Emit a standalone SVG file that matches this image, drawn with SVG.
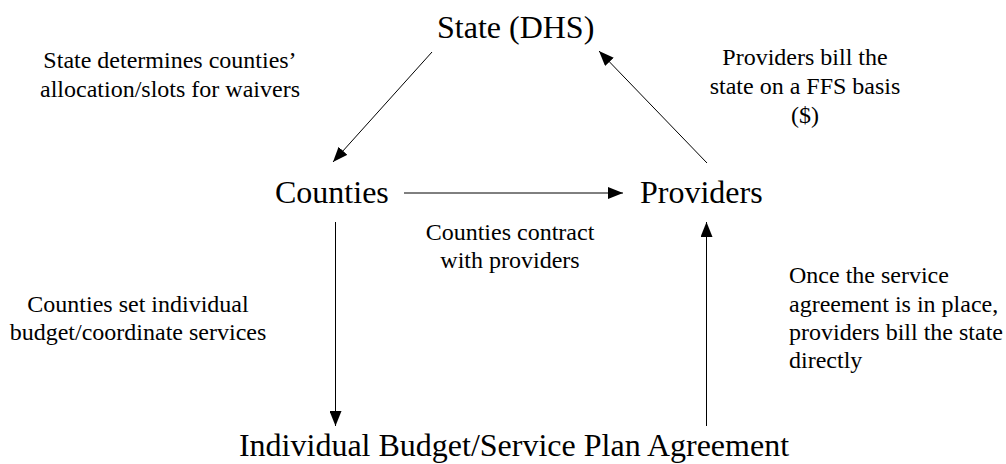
<svg xmlns="http://www.w3.org/2000/svg" width="1006" height="464" viewBox="0 0 1006 464">
<style>
.node{font-family:"Liberation Serif","Times New Roman",serif;font-size:32px;fill:#000}
.lbl{font-family:"Liberation Serif","Times New Roman",serif;font-size:24px;fill:#000}
.edge{stroke:#000;stroke-width:1;fill:none;marker-end:url(#ah)}
</style>
<defs>
<marker id="ah" viewBox="0 0 15 12" refX="15" refY="6" markerWidth="15" markerHeight="12" markerUnits="userSpaceOnUse" orient="auto">
<path d="M0,0 L15,6 L0,12 Z" fill="#000"/>
</marker>
</defs>
<rect width="1006" height="464" fill="#fff"/>
<g id="state"><text class="node" x="437" y="38">State (DHS)</text></g>
<g id="counties"><text class="node" x="275" y="203">Counties</text></g>
<g id="providers"><text class="node" x="640" y="203">Providers</text></g>
<g id="plan"><text class="node" x="514" y="456" text-anchor="middle">Individual Budget/Service Plan Agreement</text></g>
<g id="connectors">
<line class="edge" x1="432" y1="52" x2="333" y2="162"/>
<line class="edge" x1="707" y1="163" x2="599" y2="51"/>
<line class="edge" x1="404" y1="193" x2="623" y2="193"/>
<line class="edge" x1="335.5" y1="222" x2="335.5" y2="426"/>
<line class="edge" x1="706.5" y1="426" x2="706.5" y2="222"/>
</g>
<g id="labels">
<text class="lbl" x="170" y="68" text-anchor="middle">State determines counties’</text>
<text class="lbl" x="170" y="97" text-anchor="middle">allocation/slots for waivers</text>
<text class="lbl" x="805" y="65" text-anchor="middle">Providers bill the</text>
<text class="lbl" x="805" y="94" text-anchor="middle">state on a FFS basis</text>
<text class="lbl" x="805" y="123" text-anchor="middle">($)</text>
<text class="lbl" x="510" y="240" text-anchor="middle">Counties contract</text>
<text class="lbl" x="510" y="268" text-anchor="middle">with providers</text>
<text class="lbl" x="138" y="312" text-anchor="middle">Counties set individual</text>
<text class="lbl" x="138" y="340" text-anchor="middle">budget/coordinate services</text>
<text class="lbl" x="789" y="283">Once the service</text>
<text class="lbl" x="789" y="312">agreement is in place,</text>
<text class="lbl" x="789" y="340">providers bill the state</text>
<text class="lbl" x="789" y="368">directly</text>
</g>
</svg>
